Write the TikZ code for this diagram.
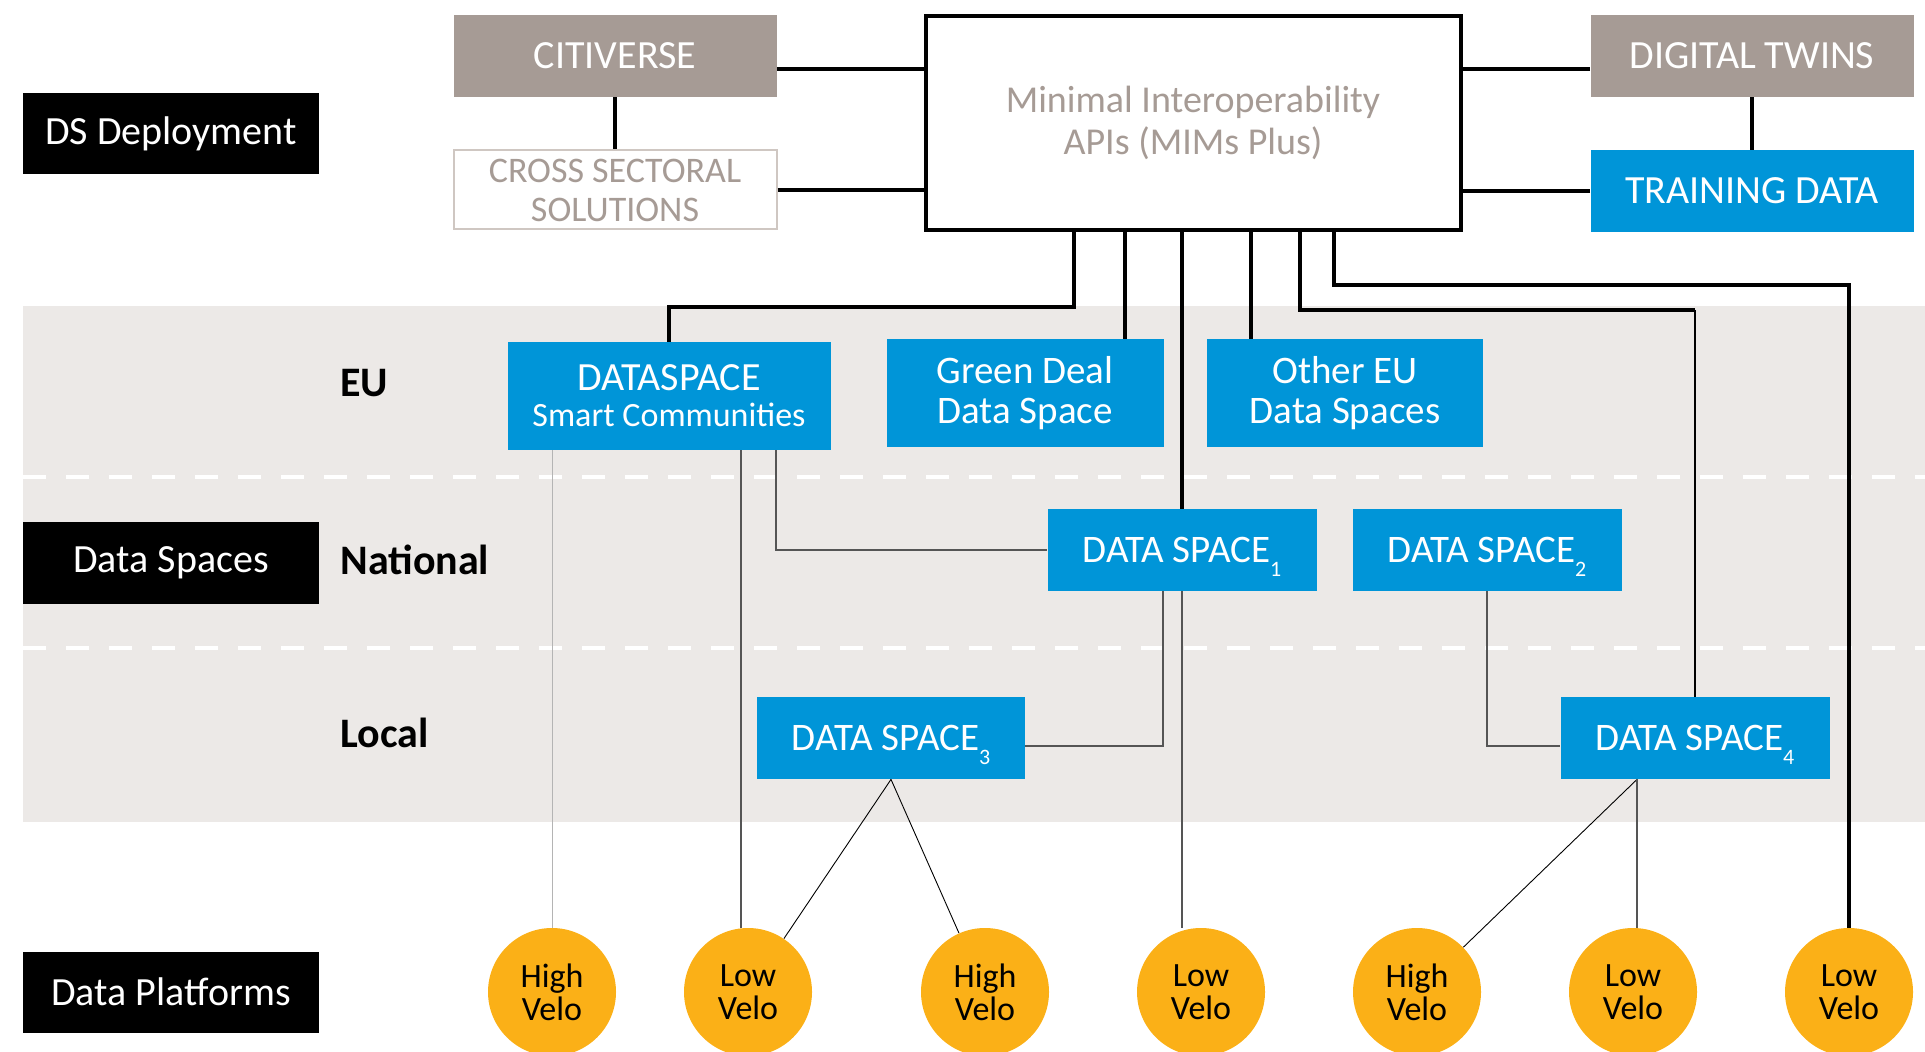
\documentclass[tikz,border=0pt]{standalone}
\usepackage{fontspec}
\setmainfont{Carlito}
\definecolor{dsblue}{HTML}{0095D8}
\definecolor{dstaupe}{HTML}{A69B95}
\definecolor{dsedge}{HTML}{CFC7C2}
\definecolor{dsband}{HTML}{ECE9E7}
\definecolor{dsorange}{HTML}{FBB017}
\definecolor{dsline}{HTML}{555555}
\definecolor{dslight}{HTML}{B4B4B4}
\newcommand{\dssub}[1]{\raisebox{-7pt}[0pt][0pt]{\fontsize{11}{11}\selectfont #1}}

\begin{document}
\begin{tikzpicture}[x=0.5pt, y=-0.5pt,
  lvl/.style={fill=black, text=white, minimum width=148pt, minimum height=40.5pt, inner sep=0pt, font=\fontsize{20}{22}\selectfont},
  taupe/.style={fill=dstaupe, text=white, minimum width=161.5pt, minimum height=41pt, inner sep=0pt, font=\fontsize{20}{22}\selectfont},
  dsbox/.style={fill=dsblue, text=white, inner sep=0pt, align=center, font=\fontsize{19.5}{20}\selectfont},
  tier/.style={anchor=west, inner sep=0pt, font=\bfseries\fontsize{21}{24}\selectfont},
  velo/.style={circle, fill=dsorange, minimum size=64pt, inner sep=0pt, align=center, font=\fontsize{17}{16.5}\selectfont},
  thk/.style={line width=1.8pt},
  thn/.style={line width=0.7pt, dsline}]
\useasboundingbox (0,0) rectangle (1925,1052);
% band with level separators
\fill[dsband] (23,306) rectangle (1925,822);
\foreach \y in {477,648}
  \draw[white, line width=2pt, dash pattern=on 11.5pt off 10pt] (23,\y) -- (1925,\y);
% left column
\node[lvl] (dep) at (171,134) {DS Deployment};
\node[lvl] (spaces) at (171,563) {Data Spaces};
\node[lvl] (plat) at (171,992) {Data Platforms};
\node[tier] (eu) at (340,383) {EU};
\node[tier] (nat) at (340,560) {National};
\node[tier] (loc) at (340,733) {Local};
% deployment row
\node[taupe] (citi) at (615,56) {CITIVERSE};
\node[draw=dsedge, line width=1pt, fill=white, text=dstaupe, minimum width=161.5pt, minimum height=39.5pt, inner sep=0pt, align=center, font=\fontsize{18}{19.5}\selectfont] (cross) at (615,190) {CROSS SECTORAL\\SOLUTIONS};
\node[draw, line width=2pt, minimum width=267.5pt, minimum height=107pt, text=dstaupe, align=center, font=\fontsize{19}{21}\selectfont] (mim) at (1193,123) {Minimal Interoperability\\APIs (MIMs Plus)};
\node[taupe] (twin) at (1752,56) {DIGITAL TWINS};
\node[taupe, fill=dsblue] (train) at (1752,191) {TRAINING DATA};
% data spaces
\node[dsbox, minimum width=161.5pt, minimum height=54pt, font=\fontsize{20}{18}\selectfont] (smart) at (669,396) {DATASPACE\\{\fontsize{17}{18}\selectfont Smart Communities}};
\node[dsbox, minimum width=138.5pt, minimum height=54pt] (green) at (1025,393) {Green Deal\\Data Space};
\node[dsbox, minimum width=138pt, minimum height=54pt] (other) at (1345,393) {Other EU\\Data Spaces};
\node[dsbox, minimum width=134.5pt, minimum height=40.5pt] (ds1) at (1182,550) {DATA SPACE\dssub{1}};
\node[dsbox, minimum width=134.5pt, minimum height=40.5pt] (ds2) at (1487,550) {DATA SPACE\dssub{2}};
\node[dsbox, minimum width=134pt, minimum height=41pt] (ds3) at (891,738) {DATA SPACE\dssub{3}};
\node[dsbox, minimum width=134.5pt, minimum height=41pt] (ds4) at (1695,738) {DATA SPACE\dssub{4}};
% platforms
\foreach \n/\x/\t in {hv1/552/High, lv1/748/Low, hv2/985/High, lv2/1201/Low, hv3/1417/High, lv3/1633/Low, lv4/1849/Low}
  \node[velo] (\n) at (\x,992) {\t\\Velo};
% deployment links
\draw[thk] (citi.south) -- (cross.north);
\draw[thk] (twin.south) -- (train.north);
\draw[thk] (citi.east) ++(0,13) coordinate (c1) -- (c1 -| mim.west);
\draw[thk] (cross.east) -- (cross.east -| mim.west);
\draw[thk] (twin.west) ++(0,13) coordinate (c2) -- (c2 -| mim.east);
\draw[thk] (train.west) -- (train.west -| mim.east);
% MIM to data spaces
\draw[thk] (mim.south) ++(-119,0) -- ++(0,75) -| (smart.north);
\draw[thk] (mim.south) ++(-68,0) coordinate (g) -- (g |- green.north);
\draw[thk] (mim.south -| ds1.north) -- (ds1.north);
\draw[thk] (mim.south) ++(58,0) coordinate (o) -- (o |- other.north);
\draw[thk] (mim.south) ++(107,0) -- ++(0,78) coordinate (k) -- (k -| ds4.north);
\draw[line width=1pt] (k -| ds4.north) -- (ds4.north);
\draw[thk] (mim.south) ++(141,0) -- ++(0,53) -| (lv4.north);
% national / local links
\draw[thn] (smart.south) ++(107,0) |- (ds1.west);
\draw[thn] (ds1.south) ++(-19,0) |- ([yshift=-4pt]ds3.east);
\draw[thn] (ds2.south) |- ([yshift=-4pt]ds4.west);
% platform links
\draw[line width=0.5pt, dslight] (smart.south -| hv1) -- (hv1);
\draw[thn] (smart.south) ++(72,0) coordinate (s) -- (s |- lv1.north);
\draw[thn] (ds1.south) -- (ds1.south |- lv2.north);
\draw[line width=0.45pt] (ds3.south) -- (lv1);
\draw[line width=0.45pt] (ds3.south) -- (hv2);
\draw[line width=0.45pt] (ds4.south) ++(-58,0) coordinate (e) -- (hv3);
\draw[thn] (e) -- (e |- lv3.north);
\end{tikzpicture}
\end{document}
